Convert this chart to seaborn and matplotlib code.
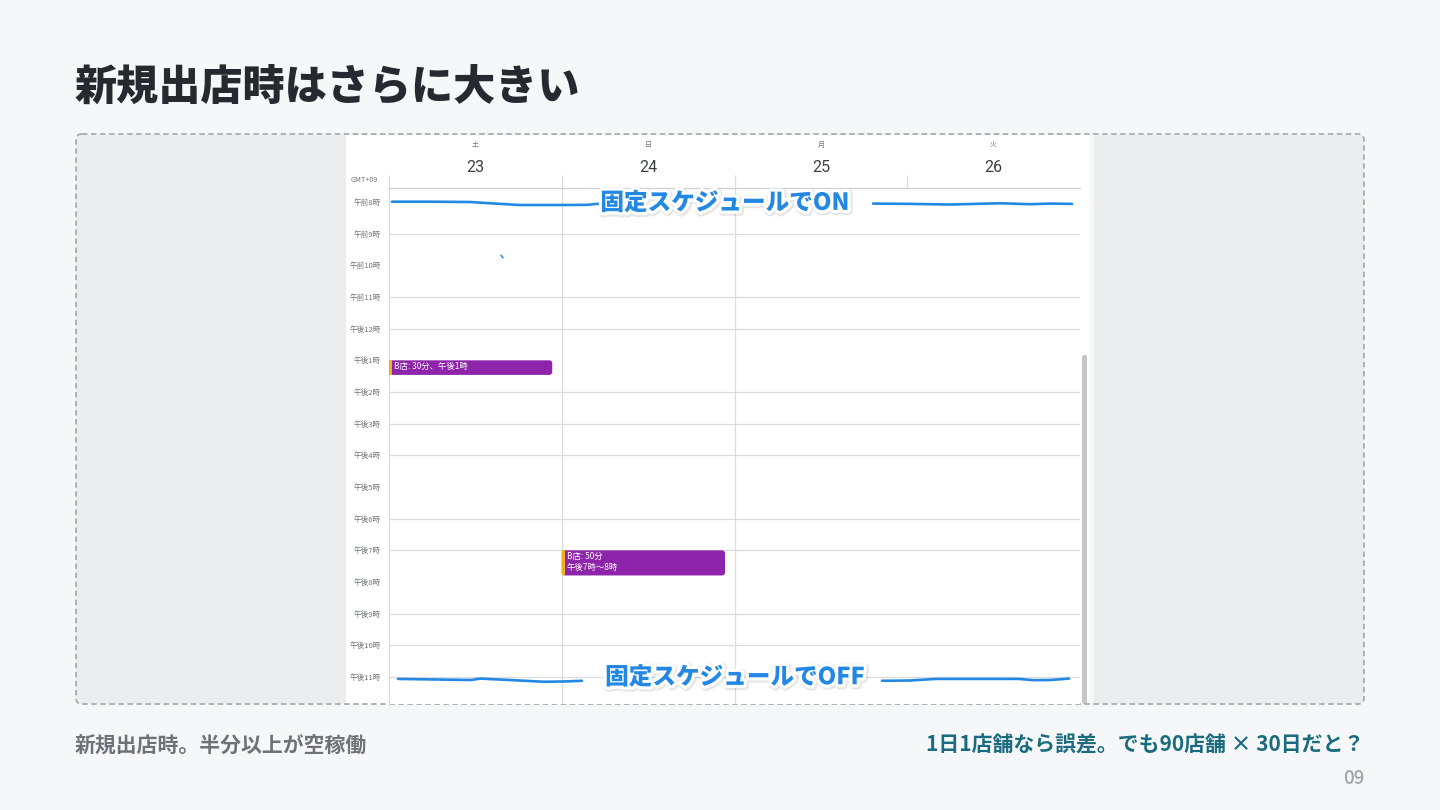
import numpy as np
import pandas as pd
import matplotlib
matplotlib.use("Agg")
import matplotlib.pyplot as plt
import matplotlib.patheffects as pe
from matplotlib.patches import FancyBboxPatch, Rectangle
import seaborn as sns

# ---------------- data ----------------
title = "新規出店時はさらに大きい"
caption_left = "新規出店時。半分以上が空稼働"
caption_right = "1日1店舗なら誤差。でも90店舗 × 30日だと？"
page_no = "09"

weekdays = ["土", "日", "月", "火"]
dates = ["23", "24", "25", "26"]
hours = list(range(8, 24))
hour_labels = ["午前8時", "午前9時", "午前10時", "午前11時", "午後12時",
               "午後1時", "午後2時", "午後3時", "午後4時", "午後5時",
               "午後6時", "午後7時", "午後8時", "午後9時", "午後10時", "午後11時"]
grid_hours = [9, 11, 12, 14, 15, 16, 18, 19, 21, 22, 23]   # lines visible in the screenshot

event_day = [0, 1]
event_start = [13.0, 19.0]
event_minutes = [30, 50]
event_text = ["B店: 30分、午後1時", "B店: 50分\n午後7時～8時"]

# hand-drawn marker lines (day position, hour)
on_left_x = [0.017, 0.237, 0.469, 0.614, 0.758, 0.990, 1.146, 1.221]
on_left_y = [7.99, 7.99, 8.00, 8.05, 8.095, 8.095, 8.09, 8.05]
on_right_x = [2.802, 3.016, 3.247, 3.537, 3.711, 3.826, 3.954]
on_right_y = [8.05, 8.06, 8.08, 8.04, 8.07, 8.05, 8.06]
off_left_x = [0.052, 0.295, 0.475, 0.527, 0.700, 0.897, 1.019, 1.117]
off_left_y = [23.06, 23.08, 23.095, 23.05, 23.095, 23.15, 23.14, 23.12]
off_right_x = [2.854, 3.016, 3.166, 3.421, 3.647, 3.728, 3.826, 3.936]
off_right_y = [23.12, 23.11, 23.06, 23.06, 23.06, 23.10, 23.095, 23.05]
label_on = "固定スケジュールでON"
label_off = "固定スケジュールでOFF"

# ---------------- style ----------------
sns.set_theme(style="white")
plt.rcParams['font.family'] = ['Noto Sans CJK JP', 'DejaVu Sans']

BG = "#f6f7f9"
PANEL = "#ecedef"
GRID = "#dadce0"
LABEL = "#70757a"
BLUE = "#2388e4"
PURPLE = "#8e24aa"
AMBER = "#f2b01e"

W, H = 1440, 810
fig = plt.figure(figsize=(14.4, 8.1), dpi=100, facecolor=BG)

# background / slide layer in pixel coordinates
bg = fig.add_axes([0, 0, 1, 1], zorder=0)
bg.set_xlim(0, W)
bg.set_ylim(H, 0)
bg.axis("off")
bg.patch.set_visible(False)

box_kw = dict(boxstyle="round,pad=0,rounding_size=6")
bg.add_patch(FancyBboxPatch((76, 134), 1288, 570, facecolor=PANEL, edgecolor="none", **box_kw))
bg.add_patch(Rectangle((346, 135), 748, 569, facecolor="white", edgecolor="none"))
bg.add_patch(Rectangle((1089, 135), 5, 569, facecolor="#f7f8f9", edgecolor="none"))
bg.add_patch(FancyBboxPatch((1082, 355), 5, 349, boxstyle="round,pad=0,rounding_size=2",
                            facecolor="#c6c6c6", edgecolor="none"))
bg.add_patch(FancyBboxPatch((76, 134), 1288, 570, facecolor="none", edgecolor="#a9adb2",
                            linewidth=1.3, linestyle=(0, (3, 2)), **box_kw))

bg.text(75, 87, title, fontsize=30.3, fontweight=900, color="#252a30", ha="left", va="center")
bg.text(75, 745, caption_left, fontsize=15, fontweight="bold", color="#6c7278", ha="left", va="center")
bg.text(1364, 745, caption_right, fontsize=15, fontweight="bold", color="#1b6b7e", ha="right", va="center")
bg.text(1364, 779, page_no, fontsize=13.5, fontweight="medium", color="#a0a5aa", ha="right", va="center")

# calendar axes
px_l, px_r, px_t, px_b = 389, 1080, 188, 704
hour_px = 31.67
y_top = 8 + (px_t - 202) / hour_px
y_bot = 23 + (px_b - 677) / hour_px
ax = fig.add_axes([px_l / W, 1 - px_b / H, (px_r - px_l) / W, (px_b - px_t) / H], zorder=2)
ax.set_facecolor("white")

# grid lines
ax.hlines(grid_hours, 0, 4, color=GRID, linewidth=0.9, zorder=1)
ax.vlines([1, 2], y_top, y_bot, color=GRID, linewidth=0.9, zorder=1)
ax.vlines([0, 1, 2, 3], y_top - 13 / hour_px, y_top, color=GRID, linewidth=0.9, clip_on=False)

# events
x_scale = (px_r - px_l) / 4.0
aspect = x_scale / hour_px
for d, s, m, t in zip(event_day, event_start, event_minutes, event_text):
    h = m / 60.0 - 0.04
    ax.add_patch(FancyBboxPatch((d, s), 0.945, h,
                                boxstyle="round,pad=0,rounding_size=0.017",
                                mutation_aspect=aspect, facecolor=PURPLE,
                                edgecolor="none", zorder=3))
    ax.add_patch(Rectangle((d, s), 0.016, h, facecolor=AMBER, edgecolor="none", zorder=4))
    ax.text(d + 0.03, s + 0.06, t, fontsize=6, color="white", ha="left", va="top",
            linespacing=1.3, zorder=5)

# hand drawn lines through seaborn
segs = []
for name, xs, ys in [("on_l", on_left_x, on_left_y), ("on_r", on_right_x, on_right_y),
                     ("off_l", off_left_x, off_left_y), ("off_r", off_right_x, off_right_y)]:
    segs.append(pd.DataFrame({"day": xs, "hour": ys, "seg": name}))
lines_df = pd.concat(segs, ignore_index=True)
sns.lineplot(data=lines_df, x="day", y="hour", units="seg", estimator=None, sort=False,
             color=BLUE, linewidth=1.9, ax=ax, zorder=6, legend=False,
             solid_capstyle="round", solid_joinstyle="round")
ax.plot([0.648, 0.660], [9.68, 9.76], color=BLUE, linewidth=1.1, zorder=6)

effects = [pe.Stroke(linewidth=6, foreground="#00000018", offset=(0.8, -0.8)),
           pe.Stroke(linewidth=4.5, foreground="white"), pe.Normal()]
ax.text(1.945, 8.02, label_on, fontsize=17, fontweight=900, color=BLUE,
        ha="center", va="center", zorder=8, path_effects=effects)
ax.text(2.003, 23.0, label_off, fontsize=17, fontweight=900, color=BLUE,
        ha="center", va="center", zorder=8, path_effects=effects)

# header texts
for i, (wd, dt) in enumerate(zip(weekdays, dates)):
    ax.text(i + 0.5, 8 + (145 - 202) / hour_px, wd, fontsize=5, color=LABEL,
            ha="center", va="center", clip_on=False)
    ax.text(i + 0.5, 8 + (167 - 202) / hour_px, dt, fontsize=11.5, color="#3c4043",
            ha="center", va="center", clip_on=False, family=["Roboto", "DejaVu Sans"])
ax.text((364 - px_l) / x_scale, 8 + (180 - 202) / hour_px, "GMT+09", fontsize=5.2,
        color=LABEL, ha="center", va="center", clip_on=False)

# axes styling
ax.set_xlim(0, 4)
ax.set_ylim(y_bot, y_top)
ax.set_xticks([])
ax.set_yticks(hours)
ax.set_yticklabels(hour_labels, fontsize=5.5, color=LABEL)
ax.tick_params(axis="y", length=0, pad=6)
ax.set_xlabel("")
ax.set_ylabel("")
for side in ["right", "bottom"]:
    ax.spines[side].set_visible(False)
ax.spines["left"].set_color(GRID)
ax.spines["left"].set_linewidth(0.9)
ax.spines["top"].set_color("#cfd1d4")
ax.spines["top"].set_linewidth(0.9)

fig.savefig("out.png", dpi=100, facecolor=BG)
